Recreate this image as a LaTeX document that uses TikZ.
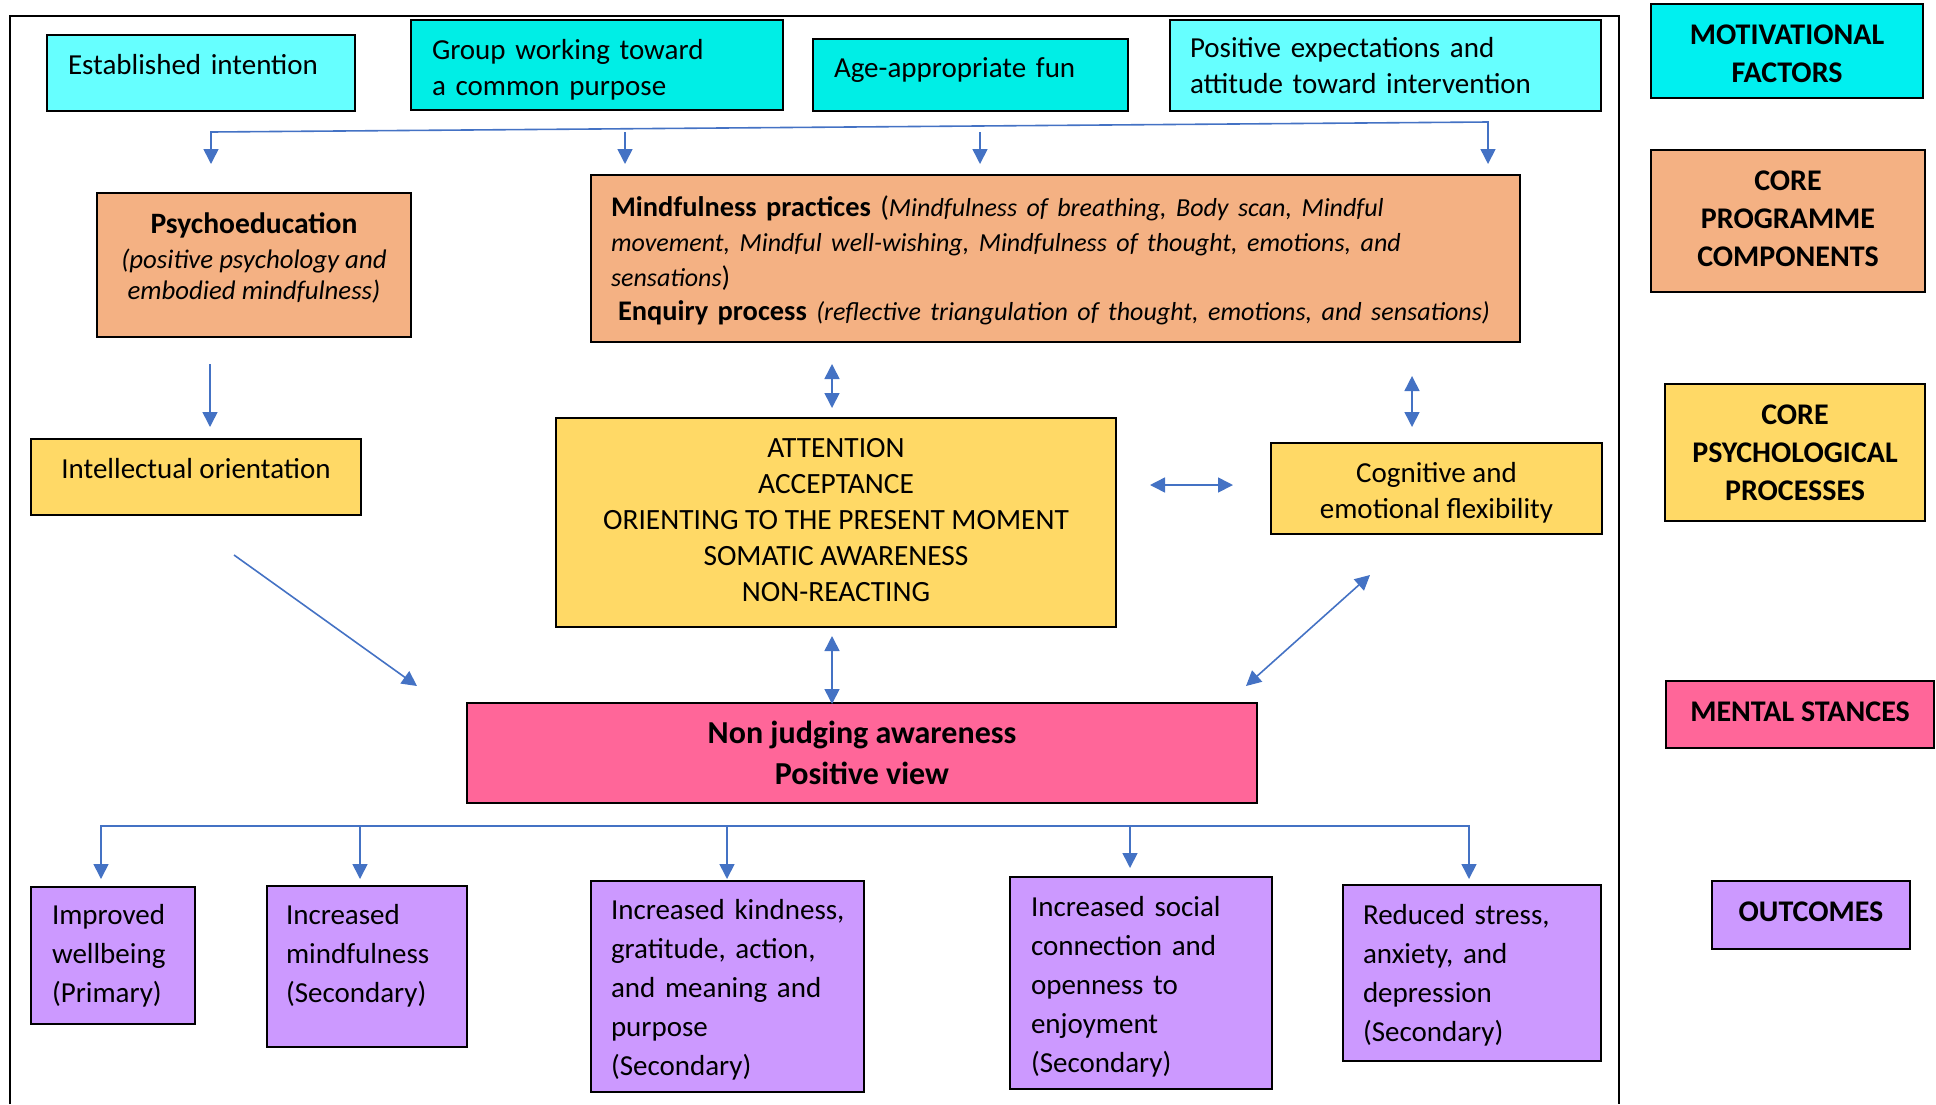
\documentclass[tikz,border=0pt]{standalone}
\usepackage{fontspec}
\setmainfont{Carlito}
\usetikzlibrary{arrows.meta}
\hyphenpenalty=10000
\exhyphenpenalty=10000

\definecolor{cyanlight}{HTML}{66FFFF}
\definecolor{turquoise}{HTML}{00EEE6}
\definecolor{motivcyan}{HTML}{00F0F0}
\definecolor{coreorange}{HTML}{F4B183}
\definecolor{psyyellow}{HTML}{FFD966}
\definecolor{stancepink}{HTML}{FF6699}
\definecolor{outpurple}{HTML}{CC99FF}
\definecolor{arrowblue}{HTML}{4472C4}

\begin{document}
\begin{tikzpicture}[x=0.5pt,y=-0.5pt,>={Triangle[length=7.5pt,width=7.5pt]},
  box/.style={draw=black,line width=1pt,inner ysep=0pt,font=\fontsize{14.5}{18}\selectfont},
  lbox/.style={box,align=left},
  cbox/.style={box,align=center},
  outbox/.style={lbox,fill=outpurple,font=\fontsize{14.5}{19.5}\selectfont},
  tag/.style={box,align=center,font=\bfseries\fontsize{15}{19}\selectfont},
  link/.style={draw=arrowblue,line width=0.8pt}]

  \useasboundingbox (0,0) rectangle (1936,1104);

  % frame
  \draw[line width=1.2pt] (10,1104) -- (10,16) -- (1619,16) -- (1619,1104);

  % motivational factors
  \node[lbox,fill=cyanlight,minimum width=154pt,minimum height=38pt,text width=133pt,inner xsep=10.5pt] (intent) at (201,73) {Established intention\rule[-9pt]{0pt}{0pt}};
  \node[lbox,fill=turquoise,minimum width=186pt,minimum height=45pt,text width=165pt,inner xsep=10.5pt] (group) at (597,65) {\rule{0pt}{14.5pt}Group working toward\\a common purpose};
  \node[lbox,fill=turquoise,minimum width=157.5pt,minimum height=36pt,text width=136.5pt,inner xsep=10.5pt] (fun) at (970.5,75) {Age-appropriate fun\rule[-7.5pt]{0pt}{0pt}};
  \node[lbox,fill=cyanlight,minimum width=215.5pt,minimum height=45.5pt,text width=195.5pt,inner xsep=10pt] (expect) at (1385.5,65.5) {Positive expectations and\\attitude toward intervention};

  % core programme components
  \node[cbox,fill=coreorange,minimum width=157pt,minimum height=72pt,font=\fontsize{14.8}{15.5}\selectfont] (psyedu) at (254,265) {\textbf{Psychoeducation}\\[1.8pt]{\fontsize{13.4}{15.5}\selectfont\itshape (positive psychology and}\\{\fontsize{13.4}{15.5}\selectfont\itshape embodied mindfulness)}\rule[-9pt]{0pt}{0pt}};
  \node[lbox,fill=coreorange,minimum width=464.5pt,minimum height=83.5pt,text width=444.5pt,inner xsep=10pt,font=\fontsize{14.2}{17.3}\selectfont] (practice) at (1055.5,258.5) {\rule{0pt}{12.5pt}\textbf{Mindfulness practices} ({\fontsize{13}{17.3}\selectfont\itshape Mindfulness of breathing, Body scan, Mindful}\\{\fontsize{13}{17.3}\selectfont\itshape movement, Mindful well-wishing, Mindfulness of thought, emotions, and}\\{\fontsize{13}{17.3}\selectfont\itshape sensations})\\\hspace*{3.5pt}\textbf{Enquiry process} {\fontsize{13}{17.3}\selectfont\itshape (reflective triangulation of thought, emotions, and sensations)}};

  % core psychological processes
  \node[cbox,fill=psyyellow,minimum width=165pt,minimum height=38pt] (intellect) at (196,477) {Intellectual orientation\rule[-8.8pt]{0pt}{0pt}};
  \node[cbox,fill=psyyellow,minimum width=280pt,minimum height=104.5pt,font=\fontsize{14.7}{18}\selectfont] (attention) at (836,522.5) {ATTENTION\\ACCEPTANCE\\ORIENTING TO THE PRESENT MOMENT\\SOMATIC AWARENESS\\NON-REACTING\rule[-2.5pt]{0pt}{0pt}};
  \node[cbox,fill=psyyellow,minimum width=165.5pt,minimum height=45.5pt,font=\fontsize{14.5}{18}\selectfont] (flex) at (1436.5,488.5) {\rule{0pt}{14pt}Cognitive and\\emotional flexibility};

  % mental stances
  \node[cbox,fill=stancepink,minimum width=395pt,minimum height=50pt,font=\bfseries\fontsize{16}{20.5}\selectfont] (stance) at (862,753) {Non judging awareness\\Positive view};

  % outcomes
  \node[outbox,minimum width=82pt,minimum height=68.5pt,text width=61pt,inner xsep=10.5pt] (wellbeing) at (113,955.5) {Improved\\wellbeing\\(Primary)};
  \node[outbox,minimum width=100pt,minimum height=80.5pt,text width=81pt,inner xsep=9.5pt] (mindful) at (367,966.5) {Increased\\mindfulness\\(Secondary)\rule[-13pt]{0pt}{0pt}};
  \node[outbox,minimum width=136.5pt,minimum height=105.5pt,text width=116.5pt,inner xsep=10pt] (kindness) at (727.5,986.5) {\rule{0pt}{13.5pt}\mbox{Increased kindness,}\\gratitude, action,\\and meaning and\\purpose\\(Secondary)};
  \node[outbox,minimum width=131pt,minimum height=106pt,text width=110pt,inner xsep=10.5pt] (social) at (1141,983) {\rule{0pt}{13.7pt}Increased social\\connection and\\openness to\\enjoyment\\(Secondary)};
  \node[outbox,minimum width=129pt,minimum height=88pt,text width=109pt,inner xsep=10pt] (stress) at (1472,973) {\rule{0pt}{12.5pt}Reduced stress,\\anxiety, and\\depression\\(Secondary)};

  % key
  \node[tag,fill=motivcyan,minimum width=136pt,minimum height=47pt] (kmotiv) at (1787,51) {\rule{0pt}{12.2pt}MOTIVATIONAL\\FACTORS};
  \node[tag,fill=coreorange,minimum width=137pt,minimum height=71pt] (kcore) at (1788,221) {CORE\\PROGRAMME\\COMPONENTS\rule[-2.5pt]{0pt}{0pt}};
  \node[tag,fill=psyyellow,minimum width=130pt,minimum height=68.5pt] (kpsy) at (1795,452.5) {CORE\\PSYCHOLOGICAL\\PROCESSES};
  \node[tag,fill=stancepink,minimum width=134pt,minimum height=33.5pt] (kstance) at (1800,714.5) {MENTAL STANCES\rule[-2.5pt]{0pt}{0pt}};
  \node[tag,fill=outpurple,minimum width=99pt,minimum height=34pt] (kout) at (1811,915) {OUTCOMES\rule[-3pt]{0pt}{0pt}};

  % arrow ends
  \coordinate (m1) at (211,164);  \coordinate (m1u) at (211,132);
  \coordinate (m4) at (1488,164); \coordinate (m4u) at (1488,122);
  \coordinate (m2u) at (625,132); \coordinate (m2) at (625,164);
  \coordinate (m3u) at (980,132); \coordinate (m3) at (980,164);
  \coordinate (p1) at (210,364);  \coordinate (p2) at (210,427);
  \coordinate (q1) at (832,364);  \coordinate (q2) at (832,408);
  \coordinate (r1) at (1412,376); \coordinate (r2) at (1412,427);
  \coordinate (s1) at (1150,485); \coordinate (s2) at (1233,485);
  \coordinate (d1) at (234,555);  \coordinate (d2) at (417,686);
  \coordinate (v1) at (832,636);  \coordinate (v2) at (832,704);
  \coordinate (e1) at (1246,686); \coordinate (e2) at (1370,575);
  \coordinate (o1) at (101,879);  \coordinate (o1u) at (101,826);
  \coordinate (o5) at (1469,879); \coordinate (o5u) at (1469,826);
  \coordinate (o2u) at (360,826); \coordinate (o2) at (360,879);
  \coordinate (o3u) at (727,826); \coordinate (o3) at (727,879);
  \coordinate (o4u) at (1130,826); \coordinate (o4) at (1130,868);

  \draw[link,<->] (m1) -- (m1u) -- (m4u) -- (m4);
  \draw[link,<->] (o1) -- (o1u) -- (o5u) -- (o5);

  \path
    (m2u) edge[link,->] (m2)
    (m3u) edge[link,->] (m3)
    (p1) edge[link,->] (p2)
    (q1) edge[link,<->] (q2)
    (r1) edge[link,<->] (r2)
    (s1) edge[link,<->] (s2)
    (d1) edge[link,->] (d2)
    (v1) edge[link,<->] (v2)
    (e1) edge[link,<->] (e2)
    (o2u) edge[link,->] (o2)
    (o3u) edge[link,->] (o3)
    (o4u) edge[link,->] (o4)
  ;
\end{tikzpicture}
\end{document}
